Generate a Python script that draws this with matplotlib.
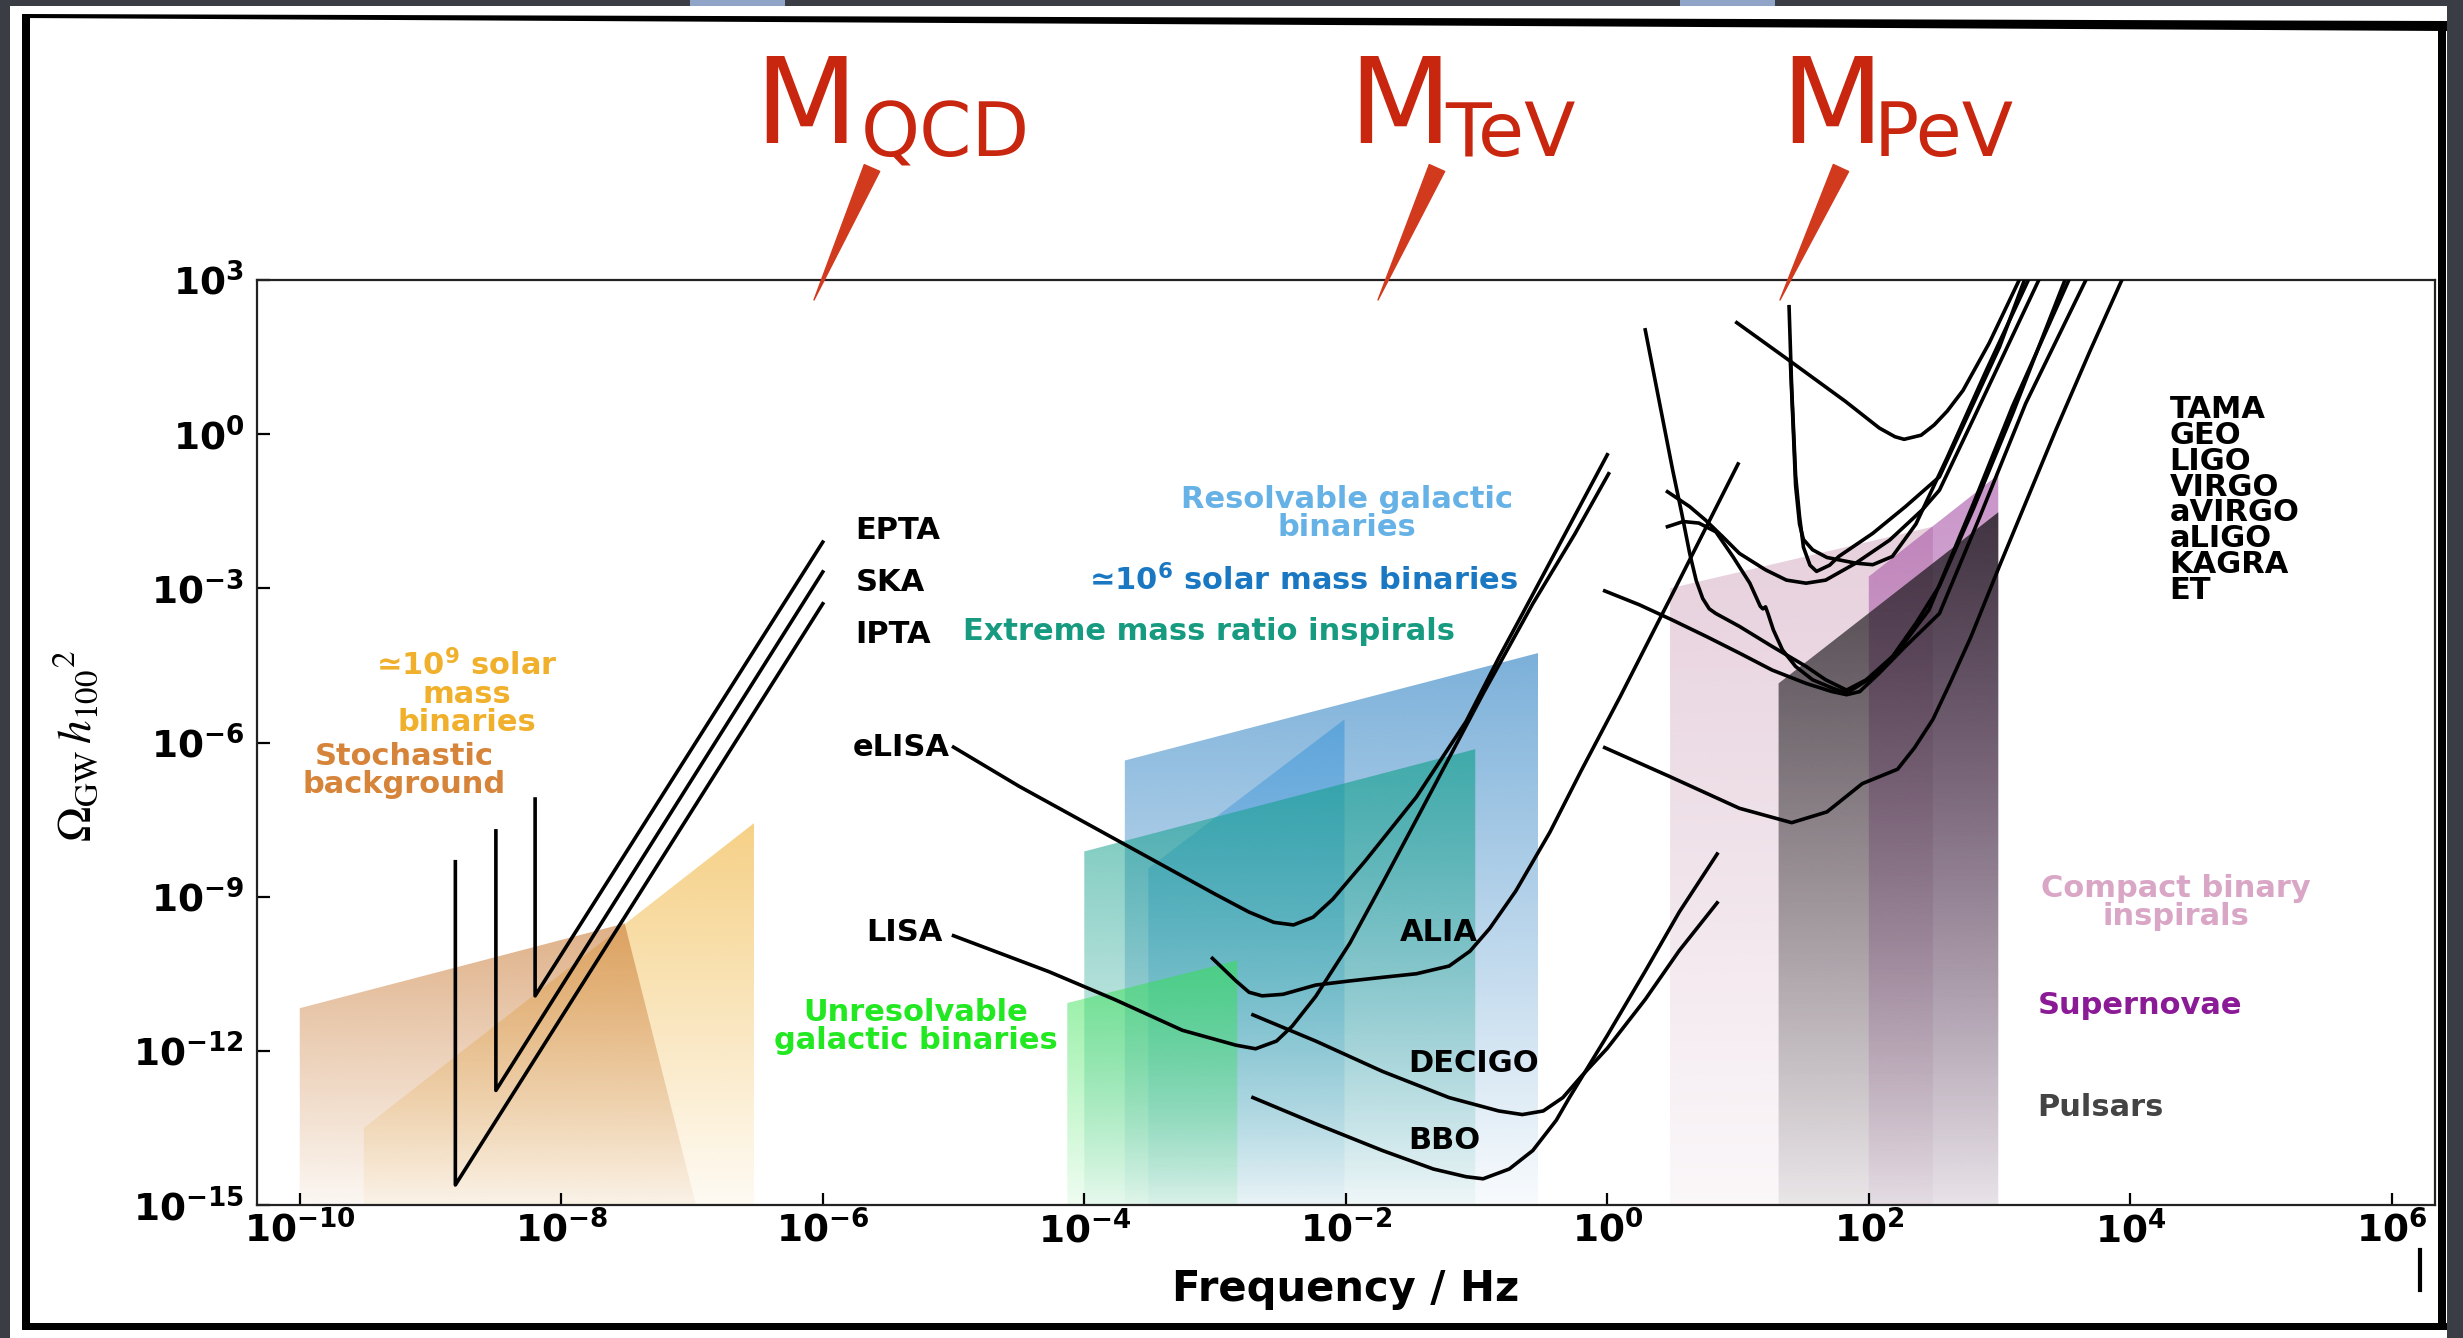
import numpy as np
import matplotlib.pyplot as plt
from matplotlib.patches import Polygon, Rectangle, FancyArrowPatch
from matplotlib.ticker import FixedLocator, FuncFormatter, NullLocator

plt.rcParams['font.family'] = ['DejaVu Sans']

W, H = 2463, 1338

# axis range in decades
x_lo, x_hi = -10.33, 6.33
y_lo, y_hi = -15.0, 3.0
xtick_exp = [-10, -8, -6, -4, -2, 0, 2, 4, 6]
ytick_exp = [3, 0, -3, -6, -9, -12, -15]

# ---- source regions: log10(f / Hz), log10(Omega h^2) ----
brown_lf = [-10.0, -10.0, -7.515, -6.97]
brown_lo = [-15.0, -11.17, -9.52, -15.0]
yellow_lf = [-9.51, -9.51, -6.526, -6.526]
yellow_lo = [-15.0, -13.50, -7.57, -15.0]
green_lf = [-4.13, -4.13, -2.83, -2.83]
green_lo = [-15.0, -11.07, -10.24, -15.0]
teal_lf = [-4.00, -4.00, -1.01, -1.01]
teal_lo = [-15.0, -8.12, -6.13, -15.0]
blue_lf = [-3.69, -3.69, -0.53, -0.53]
blue_lo = [-15.0, -6.35, -4.26, -15.0]
smbh_lf = [-3.51, -3.51, -2.01, -2.01]
smbh_lo = [-15.0, -8.45, -5.55, -15.0]
pink_lf = [0.48, 0.48, 2.49, 2.49]
pink_lo = [-15.0, -3.00, -1.80, -15.0]
purple_lf = [2.00, 2.00, 2.99, 2.99]
purple_lo = [-15.0, -2.77, -0.79, -15.0]
pulsar_lf = [1.31, 1.31, 2.99, 2.99]
pulsar_lo = [-15.0, -4.85, -1.52, -15.0]

# ---- sensitivity curves ----
epta_lf = [-8.20, -8.20, -6.00]
epta_lo = [-7.10, -10.93, -2.10]
ska_lf = [-8.50, -8.50, -6.00]
ska_lo = [-7.72, -12.77, -2.68]
ipta_lf = [-8.81, -8.81, -6.00]
ipta_lo = [-8.32, -14.61, -3.30]

elisa_lf = [-5.00, -4.50, -4.00, -3.50, -3.00, -2.74, -2.55, -2.40, -2.25, -2.10,
            -1.85, -1.46, -1.08, -0.83, -0.65, 0.00]
elisa_lo = [-6.09, -6.85, -7.55, -8.25, -8.95, -9.30, -9.50, -9.55, -9.40, -9.05,
            -8.30, -7.06, -5.59, -4.35, -3.50, -0.40]
lisa_lf = [-5.00, -4.27, -3.76, -3.25, -2.84, -2.69, -2.53, -2.41, -2.23, -1.97,
           -1.72, -1.46, -1.21, -0.95, -0.57, -0.25, 0.01]
lisa_lo = [-9.76, -10.46, -11.01, -11.60, -11.89, -11.96, -11.81, -11.52, -10.94, -9.91,
           -8.74, -7.50, -6.30, -5.05, -3.30, -1.95, -0.77]
alia_lf = [-3.02, -2.84, -2.74, -2.64, -2.48, -2.23, -1.97, -1.72, -1.46, -1.21,
           -1.05, -0.90, -0.70, -0.44, -0.20, 0.10, 0.50, 1.00]
alia_lo = [-10.20, -10.64, -10.86, -10.93, -10.90, -10.72, -10.64, -10.57, -10.50, -10.35,
           -10.06, -9.62, -8.89, -7.75, -6.55, -5.10, -3.10, -0.58]
decigo_lf = [-2.71, -2.23, -1.72, -1.21, -0.83, -0.65, -0.49, -0.34, -0.20, 0.00,
             0.29, 0.55, 0.84]
decigo_lo = [-11.30, -11.81, -12.40, -12.91, -13.17, -13.24, -13.17, -12.91, -12.50, -11.95,
             -11.00, -10.05, -9.12]
bbo_lf = [-2.71, -2.23, -1.72, -1.33, -1.08, -0.95, -0.75, -0.57, -0.39, -0.29,
          0.00, 0.29, 0.55, 0.84]
bbo_lo = [-12.91, -13.42, -13.94, -14.30, -14.45, -14.49, -14.30, -13.94, -13.35, -12.91,
          -11.70, -10.45, -9.30, -8.17]

tama_lf = [0.99, 1.41, 1.82, 2.08, 2.20, 2.27, 2.40, 2.50, 2.60, 2.72, 2.92, 3.15]
tama_lo = [2.17, 1.40, 0.64, 0.12, -0.05, -0.10, -0.02, 0.18, 0.45, 0.85, 1.77, 3.00]
geo_lf = [1.39, 1.41, 1.44, 1.47, 1.50, 1.55, 1.60, 1.70, 1.77, 2.03, 2.28, 2.54,
          2.80, 3.00, 3.19]
geo_lo = [2.48, 0.90, -0.80, -1.60, -2.20, -2.55, -2.67, -2.55, -2.38, -1.93, -1.41, -0.83,
          0.60, 1.70, 3.00]
ligo_lf = [1.40, 1.42, 1.44, 1.47, 1.50, 1.57, 1.68, 1.90, 2.03, 2.18, 2.36, 2.60,
           2.90, 3.22]
ligo_lo = [1.40, 0.22, -1.00, -1.75, -2.05, -2.25, -2.40, -2.51, -2.54, -2.38, -1.75, -0.45,
           1.25, 3.00]
virgo_lf = [0.29, 0.40, 0.50, 0.57, 0.63, 0.68, 0.73, 0.78, 0.83, 1.01, 1.26, 1.52,
            1.67, 1.83, 1.98, 2.18, 2.36, 2.54, 2.80, 3.10, 3.50]
virgo_lo = [2.03, 0.60, -0.70, -1.55, -2.32, -2.85, -3.20, -3.40, -3.49, -3.74, -4.13, -4.52,
            -4.78, -4.98, -4.78, -4.33, -3.68, -2.95, -1.45, 0.40, 3.00]
avirgo_lf = [0.46, 0.58, 0.70, 0.83, 0.96, 1.09, 1.17, 1.19, 1.21, 1.23, 1.27, 1.34,
             1.44, 1.57, 1.72, 1.83, 2.03, 2.23, 2.46, 2.80, 3.10, 3.53]
avirgo_lo = [-1.80, -1.70, -1.73, -1.90, -2.38, -2.90, -3.35, -3.40, -3.36, -3.50, -3.81, -4.20,
             -4.52, -4.78, -4.94, -5.04, -4.72, -4.20, -3.42, -1.35, 0.55, 3.00]
aligo_lf = [0.46, 0.63, 0.75, 0.88, 1.01, 1.21, 1.37, 1.52, 1.67, 1.90, 2.16, 2.41,
            2.54, 2.80, 3.05, 3.30]
aligo_lo = [-1.12, -1.41, -1.67, -1.99, -2.32, -2.64, -2.84, -2.90, -2.84, -2.51, -2.06, -1.47,
            -1.09, 0.30, 1.65, 3.00]
kagra_lf = [-0.02, 0.245, 0.50, 0.76, 1.01, 1.26, 1.52, 1.72, 1.83, 1.93, 2.08, 2.28,
            2.54, 2.85, 3.20, 3.66]
kagra_lo = [-3.05, -3.32, -3.62, -3.94, -4.26, -4.59, -4.85, -5.01, -5.07, -5.01, -4.65, -4.13,
            -3.49, -1.60, 0.60, 3.00]
et_lf = [-0.02, 0.475, 1.01, 1.41, 1.68, 1.95, 2.22, 2.35, 2.49, 2.62, 2.78, 3.00,
         3.43, 3.69, 3.935]
et_lo = [-6.10, -6.66, -7.28, -7.56, -7.35, -6.80, -6.52, -6.10, -5.55, -4.85, -3.95, -2.56,
         0.08, 1.61, 3.00]

ground_names = ['TAMA', 'GEO', 'LIGO', 'VIRGO', 'aVIRGO', 'aLIGO', 'KAGRA', 'ET']

red = '#c9260f'

fig = plt.figure(figsize=(W / 100, H / 100), dpi=100, facecolor='#3a3d44')

# slide background
bg = fig.add_axes([0, 0, 1, 1], zorder=0)
bg.set_xlim(0, W)
bg.set_ylim(H, 0)
bg.axis('off')
bg.add_patch(Rectangle((10, 6), 2437, 1332, facecolor='white', edgecolor='none'))
for x0 in (690, 1680):
    bg.add_patch(Rectangle((x0, 0), 95, 6, facecolor='#8fa4c6', edgecolor='none'))

ax = fig.add_axes([256.6 / W, 1 - 1205 / H, (2435 - 256.6) / W, (1205 - 280) / H], zorder=1)
ax.set_xscale('log')
ax.set_yscale('log')
ax.set_xlim(10 ** x_lo, 10 ** x_hi)
ax.set_ylim(10 ** y_lo, 10 ** y_hi)
ax.set_facecolor('white')


def band(lf, lo, rgb, a_top, a_bot, z):
    poly = Polygon(np.column_stack([np.power(10.0, lf), np.power(10.0, lo)]),
                   closed=True, transform=ax.transData)
    top = (max(lo) - y_lo) / (y_hi - y_lo)
    n = 400
    img = np.zeros((n, 2, 4))
    img[..., :3] = np.array(rgb) / 255.0
    img[..., 3] = np.linspace(a_bot, a_top, n)[:, None]
    im = ax.imshow(img, extent=[0, 1, 0, top], transform=ax.transAxes, origin='lower',
                   aspect='auto', interpolation='bilinear', zorder=z)
    im.set_clip_path(poly)


band(yellow_lf, yellow_lo, (240, 180, 60), 0.62, 0.06, 1.0)
band(brown_lf, brown_lo, (200, 120, 50), 0.58, 0.06, 1.1)
band(blue_lf, blue_lo, (80, 150, 205), 0.75, 0.04, 1.0)
band(smbh_lf, smbh_lo, (40, 140, 215), 0.45, 0.03, 1.1)
band(teal_lf, teal_lo, (20, 160, 140), 0.65, 0.04, 1.2)
band(green_lf, green_lo, (50, 225, 80), 0.55, 0.08, 1.3)
band(pink_lf, pink_lo, (205, 160, 185), 0.50, 0.08, 1.0)
band(purple_lf, purple_lo, (160, 70, 160), 0.58, 0.06, 1.1)
band(pulsar_lf, pulsar_lo, (35, 30, 35), 0.82, 0.08, 1.2)


def curve(lf, lo):
    ax.plot(np.power(10.0, lf), np.power(10.0, lo), color='black', lw=2.6,
            zorder=3, solid_joinstyle='round')


for lf, lo in [(epta_lf, epta_lo), (ska_lf, ska_lo), (ipta_lf, ipta_lo),
               (elisa_lf, elisa_lo), (lisa_lf, lisa_lo), (alia_lf, alia_lo),
               (decigo_lf, decigo_lo), (bbo_lf, bbo_lo),
               (tama_lf, tama_lo), (geo_lf, geo_lo), (ligo_lf, ligo_lo),
               (virgo_lf, virgo_lo), (avirgo_lf, avirgo_lo), (aligo_lf, aligo_lo),
               (kagra_lf, kagra_lo), (et_lf, et_lo)]:
    curve(lf, lo)


def lab(lf, lo, s, color='black', **kw):
    ax.text(10 ** lf, 10 ** lo, s, fontsize=22, fontweight='bold', color=color,
            zorder=4, **kw)


lab(-5.75, -1.88, 'EPTA', va='center')
lab(-5.75, -2.89, 'SKA', va='center')
lab(-5.75, -3.90, 'IPTA', va='center')
lab(-5.03, -6.10, 'eLISA', ha='right', va='center')
lab(-5.08, -9.70, 'LISA', ha='right', va='center')
lab(-1.59, -9.70, 'ALIA', va='center')
lab(-1.52, -12.24, 'DECIGO', va='center')
lab(-1.52, -13.74, 'BBO', va='center')
lab(-1.99, -1.55, 'Resolvable galactic\nbinaries', color='#66b2e6', ha='center',
    va='center', multialignment='center', linespacing=0.95)
lab(-2.32, -2.84, '≃10$^{\\mathbf{6}}$ solar mass binaries', color='#1a78c2',
    ha='center', va='center')
lab(-3.05, -3.84, 'Extreme mass ratio inspirals', color='#169a80', ha='center',
    va='center')
lab(-5.29, -11.53, 'Unresolvable\ngalactic binaries', color='#22e822', ha='center',
    va='center', multialignment='center', linespacing=0.95)
lab(-8.72, -5.04, '≃10$^{\\mathbf{9}}$ solar\nmass\nbinaries', color='#f0b02c',
    ha='center', va='center', multialignment='center', linespacing=0.95)
lab(-9.20, -6.55, 'Stochastic\nbackground', color='#d6843a', ha='center', va='center',
    multialignment='center', linespacing=0.95)
lab(4.30, -1.28, '\n'.join(ground_names), ha='left', va='center', linespacing=0.86)
lab(4.35, -9.12, 'Compact binary\ninspirals', color='#d9a6c6', ha='center', va='center',
    multialignment='center', linespacing=0.95)
lab(3.29, -11.11, 'Supernovae', color='#8b1a96', va='center')
lab(3.29, -13.10, 'Pulsars', color='#444444', va='center')

# axes styling
ax.xaxis.set_major_locator(FixedLocator(np.power(10.0, xtick_exp)))
ax.yaxis.set_major_locator(FixedLocator(np.power(10.0, ytick_exp)))
ax.xaxis.set_minor_locator(NullLocator())
ax.yaxis.set_minor_locator(NullLocator())
fmt = FuncFormatter(lambda v, p: r'$\mathbf{10^{%d}}$' % int(round(np.log10(v))))
ax.xaxis.set_major_formatter(fmt)
ax.yaxis.set_major_formatter(fmt)
ax.tick_params(axis='both', direction='in', length=9, width=1.6, labelsize=27,
               top=False, right=False)
ax.tick_params(axis='x', pad=4)
ax.tick_params(axis='y', pad=9)
for sp in ax.spines.values():
    sp.set_linewidth(1.6)
    sp.set_color('#222222')

ax.set_xlabel('Frequency / Hz', fontsize=30, fontweight='bold')
ax.xaxis.set_label_coords(0.5, -0.068)
ax.set_ylabel(r'$\Omega_{\mathrm{GW}}\,h_{100}{}^{2}$', fontsize=34,
              math_fontfamily='stix')
ax.yaxis.set_label_coords(-0.071, 0.497)

# overlay: red energy scale labels, arrows and slide frame
fg = fig.add_axes([0, 0, 1, 1], zorder=5)
fg.set_xlim(0, W)
fg.set_ylim(H, 0)
fg.axis('off')

scales = [('QCD', 754, 861, 872, 814), ('TeV', 1348, 1445, 1437, 1378),
          ('PeV', 1780, 1874, 1841, 1780)]
for sub, xm, xs, xt, xh in scales:
    fg.text(xm, 143, 'M', fontsize=86, color=red, ha='left', va='baseline')
    fg.text(xs, 156, sub, fontsize=54, color=red, ha='left', va='baseline')
    fg.add_patch(FancyArrowPatch((xt, 168), (xh, 300),
                                 arrowstyle='wedge,tail_width=0.55,shrink_factor=0.5',
                                 mutation_scale=22, color='#d23a1e',
                                 shrinkA=0, shrinkB=0))

fg.add_patch(Polygon([(22, 14), (2447, 21), (2447, 31), (22, 18)], closed=True,
                     facecolor='black', edgecolor='none'))
fg.add_patch(Rectangle((22, 14), 8, 1316, facecolor='black', edgecolor='none'))
fg.add_patch(Rectangle((2438, 21), 8, 1309, facecolor='black', edgecolor='none'))
fg.add_patch(Rectangle((22, 1323), 2425, 7, facecolor='black', edgecolor='none'))
fg.plot([2420, 2420], [1250, 1290], color='black', lw=3)

fig.savefig('out.png', dpi=100, facecolor=fig.get_facecolor())
